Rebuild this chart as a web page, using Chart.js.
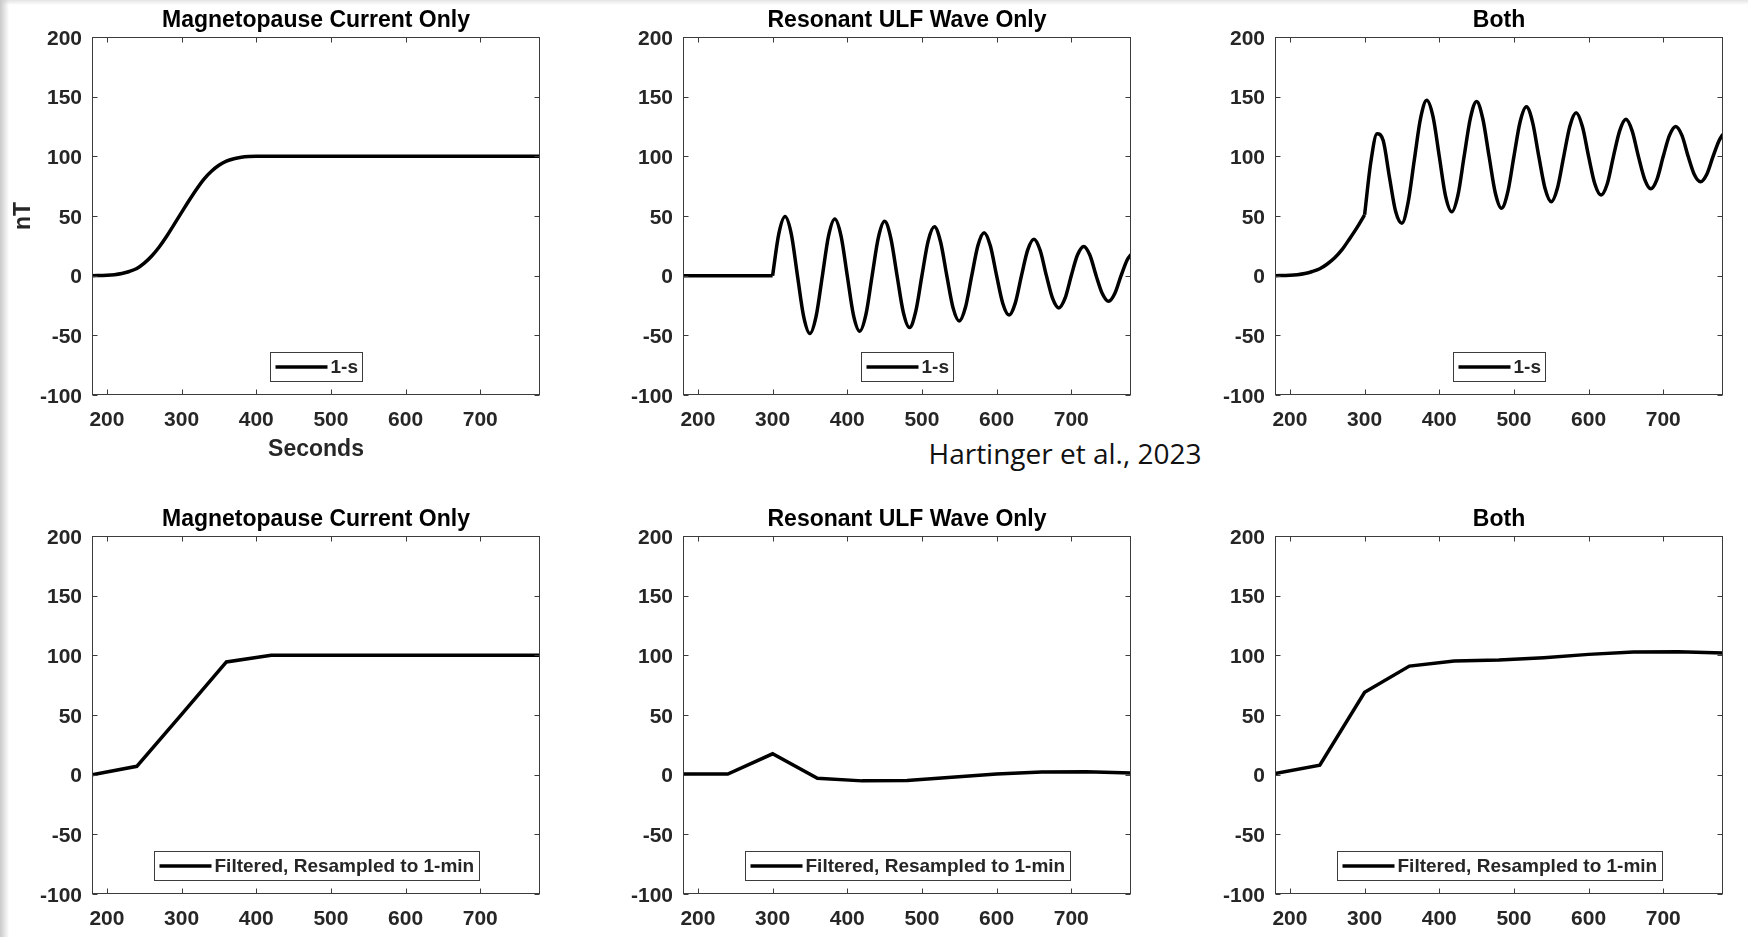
<!DOCTYPE html>
<html>
<head>
<meta charset="utf-8">
<title>Magnetopause current vs resonant ULF wave</title>
<script src="https://cdn.jsdelivr.net/npm/chart.js@4.4.1/dist/chart.umd.min.js"></script>
<style>
  html, body { margin: 0; padding: 0; overflow: hidden; }
  body {
    width: 1748px;
    height: 937px;
    position: relative;
    background:
      linear-gradient(to right, #c9c9c9 0px, rgba(255, 255, 255, 0) 9px),
      linear-gradient(to bottom, #e4e4e4 0px, #ffffff 5px);
  }
  .panel { position: absolute; }
  #credit {
    position: absolute;
    left: 1065px;
    top: 453px;
    transform: translate(-50%, -50%);
    font-family: "Open Sans", sans-serif;
    font-size: 28px;
    line-height: 28px;
    color: #111;
    white-space: nowrap;
  }
</style>
</head>
<body>
<div id="credit">Hartinger et al., 2023</div>
<script>
// ═══════════════════════════════════════
// Six MATLAB-style panels: 1-s signals (top) and
// filtered / 1-min resampled versions (bottom)
// ═══════════════════════════════════════

// Axis ticks
const xTicks = [200, 300, 400, 500, 600, 700];
const yTicks = [-100, -50, 0, 50, 100, 150, 200];

// Panel titles and legend entries
const panelTitles = ["Magnetopause Current Only", "Resonant ULF Wave Only", "Both"];
const topLegend = "1-s";
const bottomLegend = "Filtered, Resampled to 1-min";

// --- 1-s data (seconds, nT) ---

// Magnetopause current step
const mpTimes = [180, 200, 210, 220, 230, 240, 250, 260, 270, 280, 290, 300, 310, 320,
  330, 340, 350, 360, 370, 380, 390, 400, 420, 780];
const mpValues = [0, 0.3, 0.8, 1.8, 3.5, 6, 10.5, 16.5, 24, 33, 43, 53, 63, 72.5,
  81, 87.5, 92.5, 96, 98, 99.2, 99.8, 100, 100, 100];

// ULF wave: flat before the 300 s onset
const ulfPreTimes = [180, 300];
const ulfPreValues = [0, 0];

// Sample times after onset (shared by the wave and the combined signal)
const waveTimes = [300, 308.3, 316.7, 325, 333.3, 341.7, 350, 358.3, 366.7, 375,
  383.3, 391.7, 400, 408.3, 416.7, 425, 433.3, 441.7, 450, 458.3,
  466.7, 475, 483.3, 491.7, 500, 508.3, 516.7, 525, 533.3, 541.7,
  550, 558.3, 566.7, 575, 583.3, 591.7, 600, 608.3, 616.7, 625,
  633.3, 641.7, 650, 658.3, 666.7, 675, 683.3, 691.7, 700, 708.3,
  716.7, 725, 733.3, 741.7, 750, 758.3, 766.7, 775, 780];
const ulfValues = [0, 35, 49.5, 35, 0, -34.5, -48.5, -34, 0, 33.5,
  47.5, 33.2, 0, -33, -46.5, -32.5, 0, 32, 45.5, 31.5,
  0, -30.5, -43.5, -30, 0, 29, 41, 28.2, 0, -27,
  -38, -26.5, 0, 25.3, 36, 24.8, 0, -23.3, -33, -23,
  0, 21.6, 30.5, 21.3, 0, -19.1, -27, -18.9, 0, 17.3,
  24.5, 17.1, 0, -15.2, -21.5, -15, 0, 13.4, 17.6];

// Both: current rise before onset, then current + wave
const bothPreTimes = [180, 200, 210, 220, 230, 240, 250, 260, 270, 280, 290, 300];
const bothPreValues = [0, 0.3, 0.8, 1.8, 3.5, 5.8, 9.8, 15, 22, 31, 40.5, 51];
const bothValues = [51, 95, 119, 113, 82.5, 53.5, 44, 61.5, 97.5, 132,
  147, 133, 100, 67, 53.5, 67.5, 100, 132, 146, 131.5,
  100, 69.5, 56.5, 70, 100, 129, 141.5, 128.5, 100, 73,
  62, 73.5, 100, 125.5, 136.5, 125, 100, 77, 67.5, 77,
  100, 121.5, 131, 121.3, 100, 81, 72.8, 81, 100, 117.5,
  125, 117.5, 100, 84.5, 78.7, 85, 100, 113.5, 118.5];

// --- Filtered, resampled to 1-min ---
const minuteTimes = [180, 240, 300, 360, 420, 480, 540, 600, 660, 720, 780];
const mpMinute = [0, 7, 50.5, 94.5, 100, 100, 100, 100, 100, 100, 100];
const ulfMinute = [0.5, 0.5, 17.5, -3, -5.2, -4.8, -2.2, 0.5, 2.3, 2.5, 1.5];
const bothMinute = [1, 8, 69, 91, 95.3, 96, 98, 100.8, 102.8, 103, 102];

// ───── layout (page pixels) ─────
const colLeft = [92, 683, 1275];
const rowTop = [37, 536];
const plotW = 448;
const plotH = 358;
const axisW = 92;
const titleH = 34;
const rightPad = 10;

const fontFamily = '"Liberation Sans", Arial, Helvetica, sans-serif';
const textColor = "#262626";
const axisColor = "#3c3c3c";

Chart.defaults.font.family = fontFamily;
Chart.defaults.color = textColor;

// Zip two arrays into {x, y} points
function toPoints(times, values) {
  return times.map(function (t, i) {
    return { x: t, y: values[i] };
  });
}

// Box around the plot with small inward ticks on all four sides
const matlabBox = {
  id: "matlabBox",
  afterDatasetsDraw(chart) {
    let a = chart.chartArea;
    let ctx = chart.ctx;
    let L = Math.round(a.left) + 0.5;
    let R = Math.round(a.right) - 0.5;
    let T = Math.round(a.top) + 0.5;
    let B = Math.round(a.bottom) - 0.5;
    let tick = 5;
    ctx.save();
    ctx.strokeStyle = axisColor;
    ctx.lineWidth = 1;
    ctx.strokeRect(L, T, R - L, B - T);
    ctx.beginPath();
    xTicks.forEach(function (v) {
      let px = Math.round(chart.scales.x.getPixelForValue(v)) + 0.5;
      ctx.moveTo(px, B); ctx.lineTo(px, B - tick);
      ctx.moveTo(px, T); ctx.lineTo(px, T + tick);
    });
    yTicks.forEach(function (v) {
      let py = Math.round(chart.scales.y.getPixelForValue(v)) + 0.5;
      ctx.moveTo(L, py); ctx.lineTo(L + tick, py);
      ctx.moveTo(R, py); ctx.lineTo(R - tick, py);
    });
    ctx.stroke();
    ctx.restore();
  },
};

// MATLAB "south" legend: framed box at the bottom centre of the plot
const boxLegend = {
  id: "boxLegend",
  afterDraw(chart) {
    let ds = chart.data.datasets[0];
    let a = chart.chartArea;
    let ctx = chart.ctx;
    ctx.save();
    ctx.font = "bold 19px " + fontFamily;
    let textW = ctx.measureText(ds.label).width;
    let pad = 5, lineLen = 52, gap = 3, h = 29;
    let w = Math.round(pad + lineLen + gap + textW + pad);
    let x = Math.round((a.left + a.right) / 2 - w / 2) + 0.5;
    let y = Math.round(a.bottom - 14 - h) + 0.5;
    ctx.fillStyle = "#ffffff";
    ctx.fillRect(x, y, w, h);
    ctx.strokeStyle = axisColor;
    ctx.lineWidth = 1;
    ctx.strokeRect(x, y, w, h);
    ctx.strokeStyle = ds.borderColor;
    ctx.lineWidth = ds.borderWidth;
    ctx.beginPath();
    ctx.moveTo(x + pad, y + h / 2);
    ctx.lineTo(x + pad + lineLen, y + h / 2);
    ctx.stroke();
    ctx.fillStyle = textColor;
    ctx.textBaseline = "middle";
    ctx.fillText(ds.label, x + pad + lineLen + gap, y + h / 2 + 1);
    ctx.restore();
  },
};

// One line dataset
function lineSet(label, times, values, smooth) {
  return {
    label: label,
    data: toPoints(times, values),
    borderColor: "#000000",
    borderWidth: 3.5,
    pointRadius: 0,
    fill: false,
    tension: 0,
    cubicInterpolationMode: smooth ? "monotone" : "default",
  };
}

// Build one panel at (row, col)
function drawPanel(row, col, datasets, showAxisTitles) {
  let xAxisH = showAxisTitles ? 68 : 40;
  let div = document.createElement("div");
  div.className = "panel";
  let w = axisW + plotW + rightPad;
  let h = titleH + plotH + xAxisH;
  div.style.left = colLeft[col] - axisW + "px";
  div.style.top = rowTop[row] - titleH + "px";
  div.style.width = w + "px";
  div.style.height = h + "px";
  let canvas = document.createElement("canvas");
  canvas.width = w;
  canvas.height = h;
  div.appendChild(canvas);
  document.body.appendChild(div);

  return new Chart(canvas.getContext("2d"), {
    type: "line",
    data: { datasets: datasets },
    options: {
      responsive: false,
      animation: false,
      layout: { padding: { left: 0, right: rightPad, top: 0, bottom: 0 } },
      plugins: {
        legend: { display: false },
        tooltip: { enabled: false },
        title: {
          display: true,
          fullSize: false,   // centre the title over the plot box, like MATLAB
          text: panelTitles[col],
          color: "#000000",
          font: { size: 23, weight: "bold", lineHeight: 1.2 },
          padding: { top: 3.5, bottom: 2.9 },
        },
      },
      scales: {
        x: {
          type: "linear",
          min: 180,
          max: 780,
          grid: { display: false, drawTicks: false },
          border: { display: false },
          afterBuildTicks: function (scale) {
            scale.ticks = xTicks.map(function (v) { return { value: v }; });
          },
          afterFit: function (scale) { scale.height = xAxisH; },
          ticks: {
            padding: 12.5,
            autoSkip: false,
            maxRotation: 0,
            font: { size: 21, weight: "bold", lineHeight: 1.2 },
            callback: function (v) { return String(v); },
          },
          title: {
            display: showAxisTitles,
            text: "Seconds",
            font: { size: 23, weight: "bold", lineHeight: 1.2 },
            padding: { top: 0, bottom: 0 },
          },
        },
        y: {
          type: "linear",
          min: -100,
          max: 200,
          grid: { display: false, drawTicks: false },
          border: { display: false },
          afterBuildTicks: function (scale) {
            scale.ticks = yTicks.map(function (v) { return { value: v }; });
          },
          afterFit: function (scale) { scale.width = axisW; },
          ticks: {
            padding: 10,
            labelOffset: 2,
            font: { size: 21, weight: "bold", lineHeight: 1.2 },
            callback: function (v) { return String(v); },
          },
          title: {
            display: showAxisTitles,
            text: "nT",
            font: { size: 23, weight: "bold", lineHeight: 1.2 },
            padding: { top: 10, bottom: 0 },
          },
        },
      },
    },
    plugins: [matlabBox, boxLegend],
  });
}

// Top row: 1-s signals
drawPanel(0, 0, [lineSet(topLegend, mpTimes, mpValues, true)], true);
drawPanel(0, 1, [
  lineSet(topLegend, waveTimes, ulfValues, true),
  lineSet("pre-onset", ulfPreTimes, ulfPreValues, true),
], false);
drawPanel(0, 2, [
  lineSet(topLegend, waveTimes, bothValues, true),
  lineSet("pre-onset", bothPreTimes, bothPreValues, true),
], false);

// Bottom row: filtered, resampled to 1-min
drawPanel(1, 0, [lineSet(bottomLegend, minuteTimes, mpMinute, false)], false);
drawPanel(1, 1, [lineSet(bottomLegend, minuteTimes, ulfMinute, false)], false);
drawPanel(1, 2, [lineSet(bottomLegend, minuteTimes, bothMinute, false)], false);
</script>
</body>
</html>
